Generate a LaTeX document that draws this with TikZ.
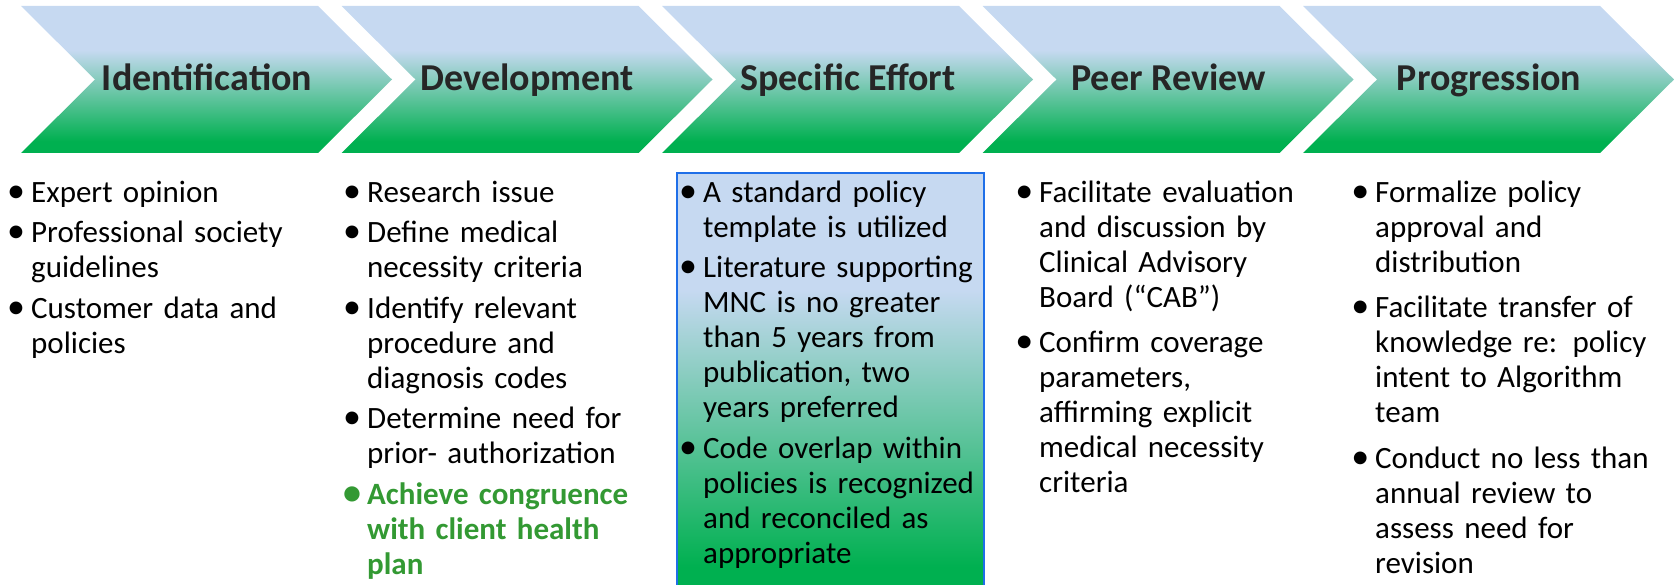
\documentclass[tikz,border=0pt]{standalone}
\usepackage{fontspec}
\setmainfont{Carlito}
\usepackage{xcolor}
\usetikzlibrary{positioning}

\definecolor{chevblue}{HTML}{C6D9F1}
\definecolor{chevgreen}{HTML}{00B050}
\definecolor{titlegray}{HTML}{262626}
\definecolor{notegreen}{HTML}{339933}
\definecolor{boxblue}{HTML}{1F6FE8}

\pgfdeclareverticalshading{chevshade}{100bp}{color(0bp)=(chevgreen); color(29bp)=(chevgreen); color(60bp)=(chevblue); color(100bp)=(chevblue)}
\pgfdeclareverticalshading{boxshade}{100bp}{color(0bp)=(chevgreen); color(28bp)=(chevgreen); color(61bp)=(chevblue); color(100bp)=(chevblue)}

\newcommand{\pitem}[1]{\par\noindent\llap{\makebox[0pt]{\fontsize{36}{35}\selectfont\textbullet}\hspace{15pt}}\rule{0pt}{24pt}#1\par}

\begin{document}
\begin{tikzpicture}[x=1pt, y=-1pt,
    chevtitle/.style={anchor=base, inner sep=0pt, text=titlegray, font=\fontsize{38}{45}\selectfont\bfseries},
    stepnotes/.style={anchor=north west, inner sep=0pt, text width=330pt, font=\fontsize{31}{35}\selectfont,
        execute at begin node={\raggedright\setlength{\parskip}{#1}\vspace*{-\parskip}}},
    stepnotes/.default=5.5pt]
    \useasboundingbox (0,0) rectangle (1675,585);

    \foreach \name [count=\i from 0] in {Identification, Development, Specific Effort, Peer Review, Progression}{
        \pgfmathsetmacro{\chevx}{21+320.5*\i}
        \path[shade, shading=chevshade] (\chevx,6) -- ++(297,0) -- ++(74,73.5) -- ++(-74,73.5) -- ++(-297,0) -- ++(74,-73.5) -- cycle;
        \node[chevtitle] (chev\i) at (\chevx+186,91) {\name};
    }

    \path[shade, shading=boxshade, draw=boxblue, line width=2pt] (677,173) rectangle (984,592);

    \node[stepnotes] (notes1) at (31,167) {%
        \pitem{Expert opinion}
        \pitem{Professional society\newline guidelines}
        \pitem{Customer data and\newline policies}};
    \node[stepnotes] (notes2) at (367,167) {%
        \pitem{Research issue}
        \pitem{Define medical\newline necessity criteria}
        \pitem{Identify relevant\newline procedure and\newline diagnosis codes}
        \pitem{Determine need for\newline prior- authorization}
        {\color{notegreen}\bfseries\pitem{Achieve congruence\newline with client health\newline plan}}};
    \node[stepnotes] (notes3) at (703,167) {%
        \pitem{A standard policy\newline template is utilized}
        \pitem{Literature supporting\newline MNC is no greater\newline than 5 years from\newline publication, two\newline years preferred}
        \pitem{Code overlap within\newline policies is recognized\newline and reconciled as\newline appropriate}};
    \node[stepnotes=10.5pt] (notes4) at (1039,167) {%
        \pitem{Facilitate evaluation\newline and discussion by\newline Clinical Advisory\newline Board (“CAB”)}
        \pitem{Confirm coverage\newline parameters,\newline affirming explicit\newline medical necessity\newline criteria}};
    \node[stepnotes=10.5pt] (notes5) at (1375,167) {%
        \pitem{Formalize policy\newline approval and\newline distribution}
        \pitem{Facilitate transfer of\newline knowledge re: policy\newline intent to Algorithm\newline team}
        \pitem{Conduct no less than\newline annual review to\newline assess need for\newline revision}};
\end{tikzpicture}
\end{document}
